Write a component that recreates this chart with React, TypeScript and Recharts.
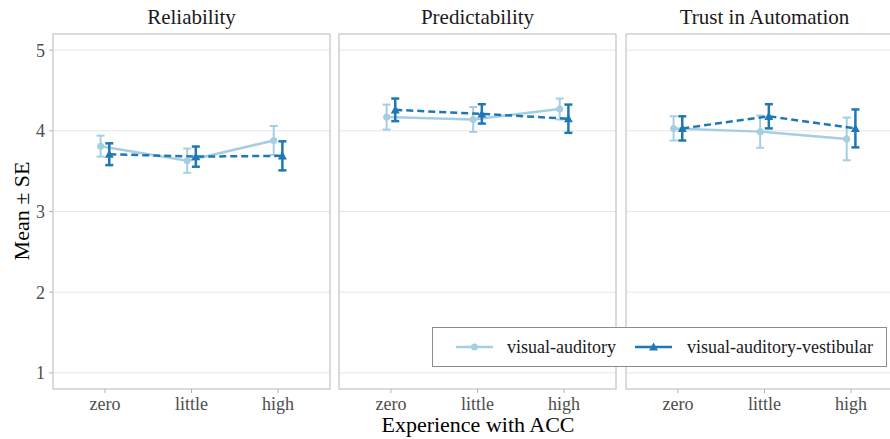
import { LineChart, Line, XAxis, YAxis, CartesianGrid, ErrorBar, ReferenceArea } from "recharts"

const categories = ["zero", "little", "high"]
const yTicks = [1, 2, 3, 4, 5]

// means and standard errors
const relVa = [3.81, 3.63, 3.88]
const relVaSe = [0.13, 0.15, 0.18]
const relVav = [3.71, 3.68, 3.69]
const relVavSe = [0.135, 0.125, 0.18]

const predVa = [4.17, 4.14, 4.27]
const predVaSe = [0.155, 0.155, 0.13]
const predVav = [4.26, 4.21, 4.15]
const predVavSe = [0.14, 0.12, 0.175]

const trustVa = [4.03, 3.99, 3.9]
const trustVaSe = [0.15, 0.2, 0.265]
const trustVav = [4.03, 4.18, 4.03]
const trustVavSe = [0.15, 0.15, 0.235]

const LIGHT = "#a6cee3"
const DARK = "#1f78b4"
const SERIF = "'Liberation Serif', 'Times New Roman', serif"
const DODGE = 0.05

const toRows = (mean: number[], se: number[], shift: number) =>
  categories.map((_, i) => ({ x: i + shift, y: mean[i], se: se[i] }))

const Triangle = (props: any) => {
  const { cx, cy, index } = props
  if (cx == null || cy == null) return <g key={`t-${index}`} />
  const s = 4.5
  return (
    <polygon
      key={`t-${index}`}
      points={`${cx},${cy - s} ${cx - s},${cy + s * 0.8} ${cx + s},${cy + s * 0.8}`}
      fill={DARK}
    />
  )
}

function Panel(props: {
  title: string
  left: number
  showY: boolean
  va: number[]
  vaSe: number[]
  vav: number[]
  vavSe: number[]
}) {
  const { title, left, showY, va, vaSe, vav, vavSe } = props
  const plotW = 277
  const yW = showY ? 53 : 0
  const mLeft = showY ? 0 : 1
  const width = yW + mLeft + plotW + 1
  const plotLeft = left + yW + mLeft
  return (
    <>
      <div
        style={{
          position: "absolute",
          left: plotLeft,
          width: plotW,
          top: 5,
          textAlign: "center",
          fontFamily: SERIF,
          fontSize: 21,
          color: "#1a1a1a",
        }}
      >
        {title}
      </div>
      <div style={{ position: "absolute", left, top: 0 }}>
        <LineChart width={width} height={439} margin={{ top: 34, right: 1, left: mLeft, bottom: 0 }}>
          <CartesianGrid vertical={false} stroke="#e6e6e6" strokeWidth={1} />
          <XAxis
            dataKey="x"
            type="number"
            domain={[-0.6, 2.6]}
            ticks={[0, 1, 2]}
            interval={0}
            allowDataOverflow
            height={50}
            tickFormatter={(v: number) => categories[Math.round(v)]}
            axisLine={false}
            tickLine={{ stroke: "#b3b3b3" }}
            tickSize={4}
            tickMargin={4}
            tick={{ fill: "#4d4d4d", fontSize: 18, fontFamily: SERIF }}
          />
          <YAxis
            type="number"
            domain={[0.8, 5.2]}
            ticks={yTicks}
            interval={0}
            allowDataOverflow
            hide={!showY}
            width={53}
            axisLine={false}
            tickLine={{ stroke: "#b3b3b3" }}
            tickSize={4}
            tickMargin={4}
            tick={{ fill: "#4d4d4d", fontSize: 18, fontFamily: SERIF }}
          />
          <ReferenceArea x1={-0.6} x2={2.6} y1={0.8} y2={5.2} fill="none" stroke="#c4c4c4" strokeWidth={1.2} />
          <Line
            data={toRows(va, vaSe, -DODGE)}
            dataKey="y"
            stroke={LIGHT}
            strokeWidth={2.5}
            dot={{ r: 3.5, fill: LIGHT, stroke: LIGHT, strokeWidth: 0 }}
            activeDot={false}
            isAnimationActive={false}
          >
            <ErrorBar dataKey="se" direction="y" width={4} stroke={LIGHT} strokeWidth={2} />
          </Line>
          <Line
            data={toRows(vav, vavSe, DODGE)}
            dataKey="y"
            stroke={DARK}
            strokeWidth={2.5}
            strokeDasharray="7 4"
            dot={Triangle}
            activeDot={false}
            isAnimationActive={false}
          >
            <ErrorBar dataKey="se" direction="y" width={4} stroke={DARK} strokeWidth={2.5} />
          </Line>
        </LineChart>
      </div>
    </>
  )
}

function Legend() {
  return (
    <div
      style={{
        position: "absolute",
        left: 432,
        top: 327,
        width: 453,
        height: 38,
        border: "1px solid #8c8c8c",
        background: "#fff",
        fontFamily: SERIF,
        fontSize: 18,
        color: "#1a1a1a",
      }}
    >
      <svg style={{ position: "absolute", left: 23, top: 12 }} width={37} height={14}>
        <line x1={0} y1={7} x2={37} y2={7} stroke={LIGHT} strokeWidth={2.5} />
        <circle cx={18.5} cy={7} r={3.5} fill={LIGHT} />
      </svg>
      <div style={{ position: "absolute", left: 74, top: 8, lineHeight: "22px" }}>visual-auditory</div>
      <svg style={{ position: "absolute", left: 202, top: 12 }} width={37} height={14}>
        <line x1={0} y1={7} x2={37} y2={7} stroke={DARK} strokeWidth={2.5} />
        <polygon points="18.5,2.5 14,10.6 23,10.6" fill={DARK} />
      </svg>
      <div style={{ position: "absolute", left: 254, top: 8, lineHeight: "22px" }}>visual-auditory-vestibular</div>
    </div>
  )
}

export default function App() {
  return (
    <div
      style={{
        position: "absolute",
        left: 0,
        top: 0,
        width: 890,
        height: 439,
        overflow: "hidden",
        background: "#fff",
      }}
    >
      <Panel title="Reliability" left={0} showY va={relVa} vaSe={relVaSe} vav={relVav} vavSe={relVavSe} />
      <Panel title="Predictability" left={338} showY={false} va={predVa} vaSe={predVaSe} vav={predVav} vavSe={predVavSe} />
      <Panel title="Trust in Automation" left={625} showY={false} va={trustVa} vaSe={trustVaSe} vav={trustVav} vavSe={trustVavSe} />
      <div
        style={{
          position: "absolute",
          left: 53,
          width: 850,
          top: 415,
          lineHeight: "20px",
          textAlign: "center",
          fontFamily: SERIF,
          fontSize: 22,
          color: "#000",
        }}
      >
        Experience with ACC
      </div>
      <div
        style={{
          position: "absolute",
          left: 22,
          top: 211,
          transform: "translate(-50%, -50%) rotate(-90deg)",
          whiteSpace: "nowrap",
          fontFamily: SERIF,
          fontSize: 22,
          color: "#000",
        }}
      >
        Mean ± SE
      </div>
      <Legend />
    </div>
  )
}
